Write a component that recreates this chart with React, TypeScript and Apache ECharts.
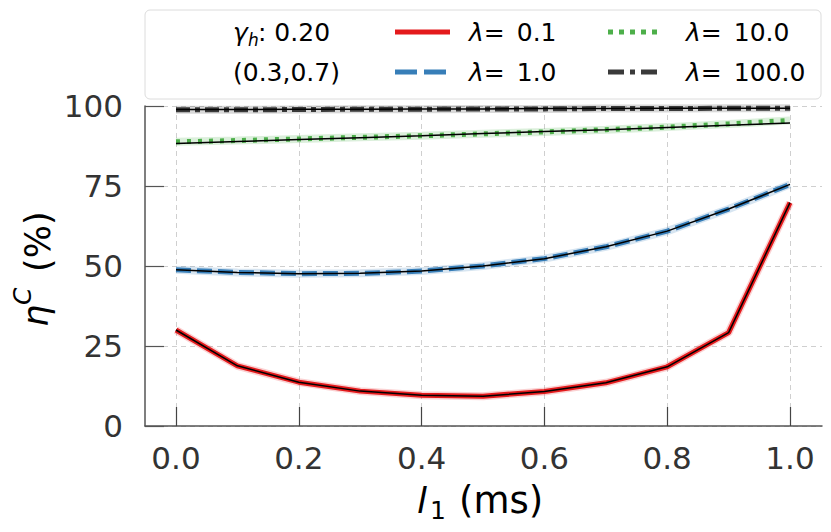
import React, { useEffect, useRef } from "react";
import * as echarts from "echarts";

// ---- data ----
const X_VALUES = [0.0, 0.1, 0.2, 0.3, 0.4, 0.5, 0.6, 0.7, 0.8, 0.9, 1.0];
const LAMBDA_LABELS = ["0.1", "1.0", "10.0", "100.0"];
const Y_TICKS = [0, 25, 50, 75, 100];
const X_TICKS = [0.0, 0.2, 0.4, 0.6, 0.8, 1.0];

// measured (coloured) curves
const SIM_L01 = [30.0, 18.8, 13.7, 10.9, 9.6, 9.3, 10.8, 13.5, 18.5, 29.2, 69.8];
const SIM_L1 = [48.8, 48.0, 47.6, 47.7, 48.4, 50.0, 52.3, 56.0, 60.9, 67.8, 75.5];
const SIM_L10 = [88.8, 89.2, 89.7, 90.2, 90.7, 91.3, 91.9, 92.6, 93.4, 94.4, 95.5];
const SIM_L100 = [98.8, 98.8, 98.9, 99.0, 99.0, 99.1, 99.1, 99.2, 99.2, 99.3, 99.3];

// thin black (model) curves
const FIT_L01 = [30.0, 18.8, 13.7, 10.9, 9.6, 9.3, 10.8, 13.5, 18.5, 29.2, 69.8];
const FIT_L1 = [48.8, 48.0, 47.6, 47.7, 48.4, 50.0, 52.3, 56.0, 60.9, 67.8, 75.5];
const FIT_L10 = [88.3, 88.9, 89.5, 90.1, 90.7, 91.4, 92.0, 92.6, 93.3, 94.0, 94.7];
const FIT_L100 = [98.9, 98.9, 99.0, 99.0, 99.1, 99.1, 99.2, 99.2, 99.3, 99.3, 99.3];

const GAMMA_TEXT = ": 0.20";
const RANGE_TEXT = "(0.3,0.7)";

const FONT = "DejaVu Sans";

const STYLES = [
  { color: "#e41a1c", dash: "solid" as any, legendDash: null as any },
  { color: "#377eb8", dash: [15, 6], legendDash: [22, 7] },
  { color: "#4daf4a", dash: [4, 7], legendDash: [5, 6] },
  { color: "#3a3a3a", dash: [14, 5, 5, 5], legendDash: [16, 6, 5, 6] },
];

const SIMS = [SIM_L01, SIM_L1, SIM_L10, SIM_L100];
const FITS = [FIT_L01, FIT_L1, FIT_L10, FIT_L100];

function pairs(vals: number[]) {
  return X_VALUES.map((x, i) => [x, vals[i]]);
}

export default function App() {
  const ref = useRef<HTMLDivElement>(null);
  useEffect(() => {
    document.body.style.margin = "0";
    if (!ref.current) return;
    const chart = echarts.init(ref.current, undefined, { renderer: "svg" });

    const series: any[] = [];
    SIMS.forEach((vals, k) => {
      const st = STYLES[k];
      series.push({
        type: "line",
        xAxisIndex: 1,
        yAxisIndex: 1,
        data: pairs(vals),
        showSymbol: false,
        silent: true,
        z: 2,
        lineStyle: { color: st.color, width: 8, opacity: 0.2 },
      });
      series.push({
        name: "λ= " + LAMBDA_LABELS[k],
        type: "line",
        xAxisIndex: 1,
        yAxisIndex: 1,
        data: pairs(vals),
        showSymbol: false,
        z: 3,
        lineStyle: { color: st.color, width: 5, type: st.dash, cap: "butt" },
      });
      series.push({
        type: "line",
        xAxisIndex: 1,
        yAxisIndex: 1,
        data: pairs(FITS[k]),
        showSymbol: false,
        silent: true,
        z: 4,
        lineStyle: { color: "#000", width: 1.5 },
      });
    });

    const rowY = [32, 72];
    const legendChildren: any[] = [
      {
        type: "rect",
        shape: { x: 145, y: 10, width: 676, height: 89, r: 5 },
        style: { fill: "#fff", stroke: "#dcdcdc", lineWidth: 1 },
      },
      {
        type: "text",
        x: 233,
        y: rowY[0],
        style: { text: "γ", font: `italic 25px ${FONT}`, fill: "#000", verticalAlign: "middle" },
      },
      {
        type: "text",
        x: 248,
        y: rowY[0] + 8,
        style: { text: "h", font: `italic 17px ${FONT}`, fill: "#000", verticalAlign: "middle" },
      },
      {
        type: "text",
        x: 258,
        y: rowY[0],
        style: { text: GAMMA_TEXT, font: `25px ${FONT}`, fill: "#000", verticalAlign: "middle" },
      },
      {
        type: "text",
        x: 233,
        y: rowY[1],
        style: { text: RANGE_TEXT, font: `25px ${FONT}`, fill: "#000", verticalAlign: "middle" },
      },
    ];
    const handleX = [
      [395, 450],
      [395, 448],
      [608, 658],
      [608, 660],
    ];
    const textX = [469, 469, 686, 686];
    LAMBDA_LABELS.forEach((lab, k) => {
      const st = STYLES[k];
      const y = rowY[k % 2];
      legendChildren.push({
        type: "line",
        shape: { x1: handleX[k][0], y1: y, x2: handleX[k][1], y2: y },
        style: {
          stroke: st.color,
          lineWidth: 5,
          lineDash: st.legendDash || undefined,
          lineCap: "butt",
        },
      });
      legendChildren.push({
        type: "text",
        x: textX[k],
        y: y,
        style: {
          text: `{i|λ}{n|=}{v|${lab}}`,
          verticalAlign: "middle",
          fill: "#000",
          rich: {
            i: { font: `italic 25px ${FONT}`, fill: "#000" },
            n: { font: `25px ${FONT}`, fill: "#000" },
            v: { font: `25px ${FONT}`, fill: "#000", padding: [0, 0, 0, 12] },
          },
        },
      });
    });

    const axisTitle: any[] = [
      // x axis title: l_1 (ms)
      {
        type: "text",
        x: 417,
        y: 500,
        style: { text: "l", font: `italic 36px ${FONT}`, fill: "#000", verticalAlign: "middle" },
      },
      {
        type: "text",
        x: 430,
        y: 510,
        style: { text: "1", font: `25px ${FONT}`, fill: "#000", verticalAlign: "middle" },
      },
      {
        type: "text",
        x: 459,
        y: 500,
        style: { text: "(ms)", font: `37px ${FONT}`, fill: "#000", verticalAlign: "middle" },
      },
      // y axis title: eta^C (%)
      {
        type: "group",
        x: 38,
        y: 267,
        rotation: Math.PI / 2,
        children: [
          {
            type: "text",
            x: -60,
            y: -2,
            style: { text: "η", font: `italic 35px ${FONT}`, fill: "#000", verticalAlign: "middle" },
          },
          {
            type: "text",
            x: -38,
            y: -16,
            style: { text: "C", font: `italic 25px ${FONT}`, fill: "#000", verticalAlign: "middle" },
          },
          {
            type: "text",
            x: -5,
            y: 0,
            style: { text: "(%)", font: `35px ${FONT}`, fill: "#000", verticalAlign: "middle" },
          },
        ],
      },
    ];

    const gridDash = { color: "#cfcfcf", width: 1, type: [5, 4] as any };

    chart.setOption({
      animation: false,
      backgroundColor: "#fff",
      textStyle: { fontFamily: FONT },
      grid: [
        { left: 145, right: 9, top: 106, bottom: 106 },
        { left: 176, right: 41, top: 106, bottom: 106 },
      ],
      xAxis: [
        {
          type: "value",
          gridIndex: 0,
          min: -0.05,
          max: 1.05,
          axisLine: { show: true, onZero: false, lineStyle: { color: "#555", width: 1.5 } },
          axisTick: { show: false },
          axisLabel: { show: false },
          splitLine: { show: false },
        },
        {
          type: "value",
          gridIndex: 1,
          min: X_TICKS[0],
          max: X_TICKS[X_TICKS.length - 1],
          interval: 0.2,
          axisLine: { show: false, onZero: false },
          axisTick: { show: true, inside: true, length: 19, lineStyle: { color: "#444", width: 1.2 } },
          axisLabel: {
            show: true,
            fontSize: 31,
            fontFamily: FONT,
            color: "#333",
            margin: 16,
            formatter: (v: number) => v.toFixed(1),
          },
          splitLine: { show: true, lineStyle: gridDash },
        },
      ],
      yAxis: [
        {
          type: "value",
          gridIndex: 0,
          min: Y_TICKS[0],
          max: Y_TICKS[Y_TICKS.length - 1],
          interval: 25,
          axisLine: { show: true, onZero: false, lineStyle: { color: "#555", width: 1.5 } },
          axisTick: { show: true, inside: true, length: 19, lineStyle: { color: "#555", width: 1.2 } },
          axisLabel: { show: true, fontSize: 31, fontFamily: FONT, color: "#333", margin: 22 },
          splitLine: { show: true, lineStyle: gridDash },
        },
        {
          type: "value",
          gridIndex: 1,
          min: Y_TICKS[0],
          max: Y_TICKS[Y_TICKS.length - 1],
          show: false,
          axisLine: { show: false, onZero: false },
          axisTick: { show: false },
          axisLabel: { show: false },
          splitLine: { show: false },
        },
      ],
      series,
      graphic: [...legendChildren, ...axisTitle],
    });

    return () => chart.dispose();
  }, []);

  return <div ref={ref} style={{ width: 831, height: 532 }} />;
}
